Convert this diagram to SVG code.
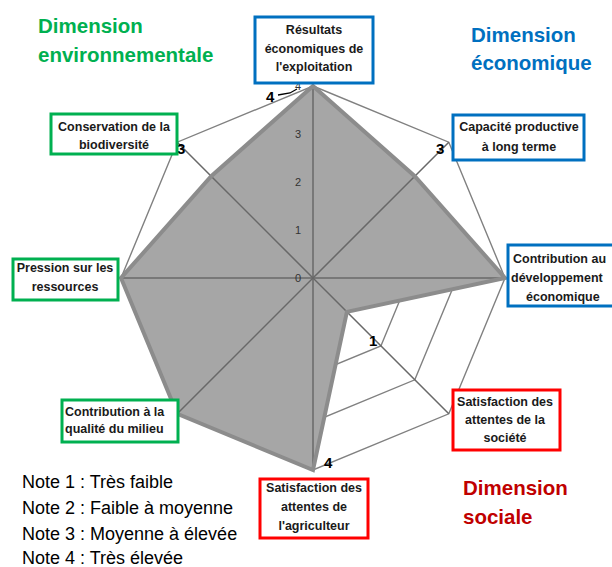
<svg xmlns="http://www.w3.org/2000/svg" width="612" height="567" viewBox="0 0 612 567">
<style>
.bg{fill:#ffffff}
.ring{fill:none;stroke:#808080;stroke-width:1.4}
.axis{stroke:#686868;stroke-width:1.5}
.fill{fill:#a6a6a6;stroke:none}
.outline{fill:none;stroke:#8c8c8c;stroke-width:4}
.tick{font-family:"Liberation Sans",Arial,sans-serif;font-size:11px;fill:#333333;text-anchor:end}
.dl{font-family:"Liberation Sans",Arial,sans-serif;font-size:15px;font-weight:bold;fill:#000}
.box{fill:#fff;stroke-width:3}
.blue{stroke:#0070c0}
.green{stroke:#00b050}
.red{stroke:#ff0000}
.lbl{font-family:"Liberation Sans",Arial,sans-serif;font-size:12.5px;font-weight:bold;fill:#1a1a1a;text-anchor:middle}
.lbs{font-family:"Liberation Sans",Arial,sans-serif;font-size:12.5px;font-weight:bold;fill:#1a1a1a;text-anchor:start}
.dim{font-family:"Liberation Sans",Arial,sans-serif;font-size:20.5px;font-weight:bold}
.note{font-family:"Liberation Sans",Arial,sans-serif;font-size:18px;fill:#000}
</style>
<rect class="bg" x="0" y="0" width="612" height="567"/>
<g id="grid">
<polygon class="ring" points="313,230 346.9,244.1 361,278 346.9,311.9 313,326 279.1,311.9 265,278 279.1,244.1"/>
<polygon class="ring" points="313,182 380.9,210.1 409,278 380.9,345.9 313,374 245.1,345.9 217,278 245.1,210.1"/>
<polygon class="ring" points="313,134 414.8,176.2 457,278 414.8,379.8 313,422 211.2,379.8 169,278 211.2,176.2"/>
<polygon class="ring" points="313,86 448.8,142.2 505,278 448.8,413.8 313,470 177.2,413.8 121,278 177.2,142.2"/>
</g>
<g id="series">
<polygon class="fill" points="313,86 414.8,176.2 505,278 346.9,311.9 313,470 177.2,413.8 121,278 211.2,176.2"/>
</g>
<g id="connectors">
<line class="axis" x1="313" y1="278" x2="313" y2="86"/>
<line class="axis" x1="313" y1="278" x2="448.8" y2="142.2"/>
<line class="axis" x1="313" y1="278" x2="505" y2="278"/>
<line class="axis" x1="313" y1="278" x2="448.8" y2="413.8"/>
<line class="axis" x1="313" y1="278" x2="313" y2="470"/>
<line class="axis" x1="313" y1="278" x2="177.2" y2="413.8"/>
<line class="axis" x1="313" y1="278" x2="121" y2="278"/>
<line class="axis" x1="313" y1="278" x2="177.2" y2="142.2"/>
<polygon class="outline" points="313,86 414.8,176.2 505,278 346.9,311.9 313,470 177.2,413.8 121,278 211.2,176.2"/>
<polyline points="278,95 290,93 297,89" fill="none" stroke="#000" stroke-width="1.3"/>
</g>
<g id="ticks">
<text class="tick" x="301" y="282">0</text>
<text class="tick" x="301" y="234">1</text>
<text class="tick" x="301" y="186">2</text>
<text class="tick" x="301" y="138">3</text>
<text class="tick" x="301" y="90">4</text>
</g>
<g id="datalabels">
<text class="dl" x="266" y="102">4</text>
<text class="dl" x="436" y="154">3</text>
<text class="dl" x="177" y="154">3</text>
<text class="dl" x="369" y="346">1</text>
<text class="dl" x="324" y="468">4</text>
</g>
<g id="node-resultats">
<rect class="box blue" x="255" y="17" width="118" height="66"/>
<text class="lbl" x="314" y="34">Résultats</text>
<text class="lbl" x="314" y="53">économiques de</text>
<text class="lbl" x="314" y="71">l'exploitation</text>
</g>
<g id="node-capacite">
<rect class="box blue" x="453" y="115" width="131" height="45"/>
<text class="lbl" x="519" y="131">Capacité productive</text>
<text class="lbl" x="519" y="151">à long terme</text>
</g>
<g id="node-developpement">
<rect class="box blue" x="508" y="245" width="130" height="61"/>
<text class="lbs" x="513" y="263">Contribution au</text>
<text class="lbs" x="511" y="282">développement</text>
<text class="lbs" x="526" y="301">économique</text>
</g>
<g id="node-societe">
<rect class="box red" x="453" y="390" width="107" height="60"/>
<text class="lbl" x="505" y="406">Satisfaction des</text>
<text class="lbl" x="505" y="424">attentes de la</text>
<text class="lbl" x="505" y="442">société</text>
</g>
<g id="node-agriculteur">
<rect class="box red" x="260" y="479" width="108" height="59"/>
<text class="lbl" x="314" y="492">Satisfaction des</text>
<text class="lbl" x="314" y="511">attentes de</text>
<text class="lbl" x="314" y="530">l'agriculteur</text>
</g>
<g id="node-qualite">
<rect class="box green" x="62" y="400" width="116" height="42"/>
<text class="lbs" x="65" y="416">Contribution à la</text>
<text class="lbs" x="65" y="433">qualité du milieu</text>
</g>
<g id="node-pression">
<rect class="box green" x="13" y="259" width="105" height="41"/>
<text class="lbl" x="65" y="272">Pression sur les</text>
<text class="lbl" x="65" y="291">ressources</text>
</g>
<g id="node-biodiversite">
<rect class="box green" x="51" y="114" width="126" height="40"/>
<text class="lbl" x="114" y="131">Conservation de la</text>
<text class="lbl" x="114" y="149">biodiversité</text>
</g>
<g id="dim-env">
<text class="dim" x="38" y="33" fill="#00b050">Dimension</text>
<text class="dim" x="38" y="62" fill="#00b050">environnementale</text>
</g>
<g id="dim-eco">
<text class="dim" x="471" y="42" fill="#0070c0">Dimension</text>
<text class="dim" x="471" y="70" fill="#0070c0">économique</text>
</g>
<g id="dim-soc">
<text class="dim" x="463" y="495" fill="#c00000">Dimension</text>
<text class="dim" x="463" y="524" fill="#c00000">sociale</text>
</g>
<g id="legend">
<text class="note" x="22" y="488">Note 1 : Très faible</text>
<text class="note" x="22" y="514">Note 2 : Faible à moyenne</text>
<text class="note" x="22" y="540">Note 3 : Moyenne à élevée</text>
<text class="note" x="22" y="564">Note 4 : Très élevée</text>
</g>
</svg>
